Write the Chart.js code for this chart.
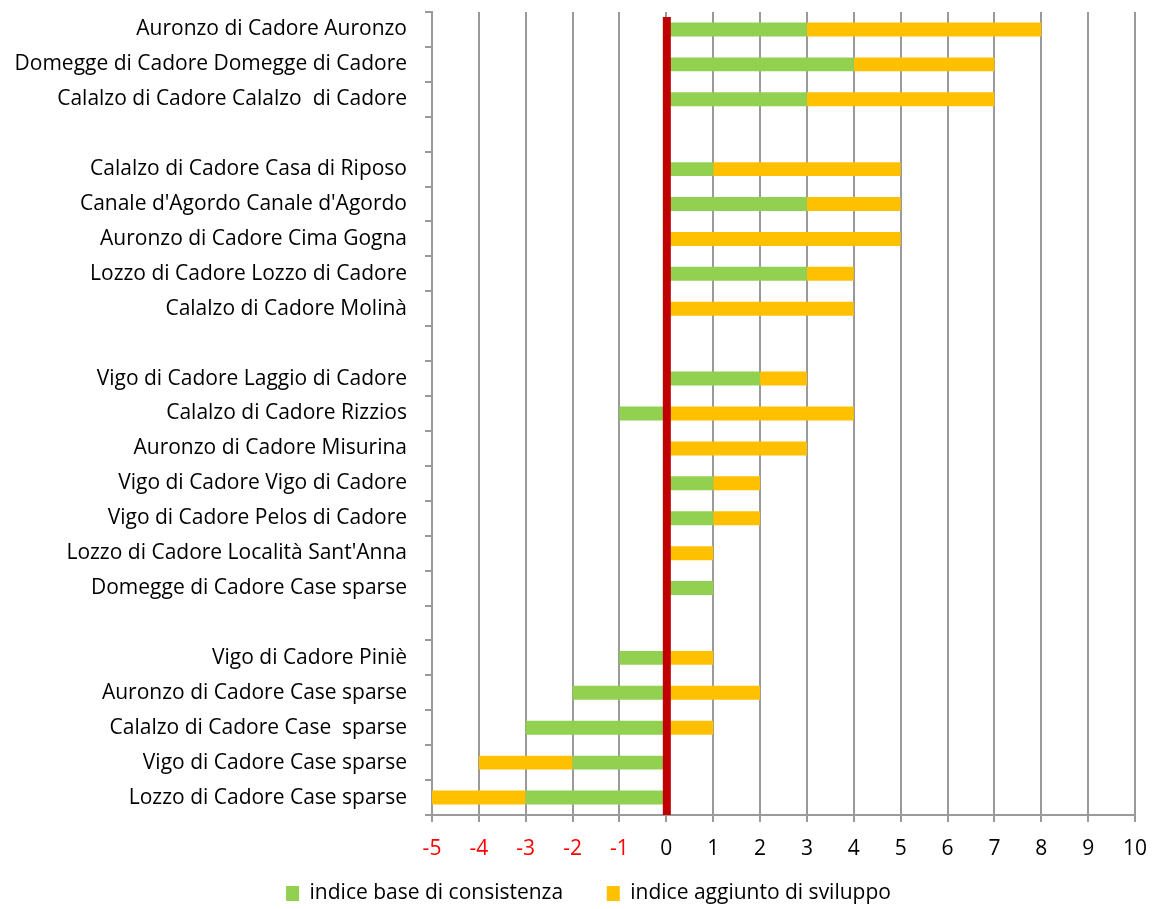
<!DOCTYPE html>
<html>
<head>
<meta charset="utf-8">
<script src="https://cdn.jsdelivr.net/npm/chart.js@4.4.1/dist/chart.umd.min.js"></script>
<style>
  html, body { margin: 0; padding: 0; background: #fff; }
  #wrap { width: 1158px; height: 909px; position: relative; }
</style>
</head>
<body>
<div id="wrap"><canvas id="c" width="1158" height="909"></canvas></div>
<script>
// Località (righe vuote = separatori tra i gruppi)
const categories = [
  "Auronzo di Cadore Auronzo",
  "Domegge di Cadore Domegge di Cadore",
  "Calalzo di Cadore Calalzo  di Cadore",
  "",
  "Calalzo di Cadore Casa di Riposo",
  "Canale d'Agordo Canale d'Agordo",
  "Auronzo di Cadore Cima Gogna",
  "Lozzo di Cadore Lozzo di Cadore",
  "Calalzo di Cadore Molinà",
  "",
  "Vigo di Cadore Laggio di Cadore",
  "Calalzo di Cadore Rizzios",
  "Auronzo di Cadore Misurina",
  "Vigo di Cadore Vigo di Cadore",
  "Vigo di Cadore Pelos di Cadore",
  "Lozzo di Cadore Località Sant'Anna",
  "Domegge di Cadore Case sparse",
  "",
  "Vigo di Cadore Piniè",
  "Auronzo di Cadore Case sparse",
  "Calalzo di Cadore Case  sparse",
  "Vigo di Cadore Case sparse",
  "Lozzo di Cadore Case sparse"
];

const indiceBase = [3, 4, 3, null, 1, 3, 0, 3, 0, null, 2, -1, 0, 1, 1, 0, 1, null, -1, -2, -3, -2, -3];
const indiceSviluppo = [5, 3, 4, null, 4, 2, 5, 1, 4, null, 1, 4, 3, 1, 1, 1, 0, null, 1, 2, 1, -2, -2];

const seriesNames = ["indice base di consistenza", "indice aggiunto di sviluppo"];
const xTicks = [-5, -4, -3, -2, -1, 0, 1, 2, 3, 4, 5, 6, 7, 8, 9, 10];

const FONT = "'Open Sans', Lato, sans-serif";
const FSIZE = 21;
const GRID = '#9a9a9a';

// Linea verticale rossa sullo zero
const zeroLine = {
  id: 'zeroLine',
  afterDatasetsDraw(chart) {
    const { ctx, chartArea, scales } = chart;
    const x = scales.x.getPixelForValue(0);
    ctx.save();
    ctx.fillStyle = '#C00000';
    ctx.fillRect(x - 3.5, chartArea.top + 5, 8, chartArea.bottom - chartArea.top - 5);
    ctx.restore();
  }
};

// Sposta leggermente la legenda verso destra e verso il basso
const legendShift = {
  id: 'legendShift',
  afterLayout(chart) {
    const lg = chart.legend;
    if (lg) { lg.left += 21; lg.right += 21; lg.top += 5; lg.bottom += 5; }
  }
};

new Chart(document.getElementById('c'), {
  type: 'bar',
  data: {
    labels: categories,
    datasets: [
      { label: seriesNames[0], data: indiceBase, backgroundColor: '#92D050', borderWidth: 0 },
      { label: seriesNames[1], data: indiceSviluppo, backgroundColor: '#FFC000', borderWidth: 0 }
    ]
  },
  options: {
    indexAxis: 'y',
    responsive: false,
    animation: false,
    devicePixelRatio: 1,
    layout: { padding: { top: 12, right: 23, left: 0, bottom: 0 } },
    datasets: { bar: { categoryPercentage: 1, barPercentage: 0.4 } },
    scales: {
      x: {
        stacked: true,
        min: -5,
        max: 10,
        afterBuildTicks(axis) { axis.ticks = xTicks.map(v => ({ value: v })); },
        afterFit(axis) { axis.height = 63; axis.paddingLeft = 0; axis.paddingRight = 0; },
        grid: { color: GRID, lineWidth: 2, tickLength: 7, drawOnChartArea: true },
        border: { color: GRID, width: 2 },
        ticks: {
          font: { family: FONT, size: FSIZE },
          color: ctx => (ctx.tick && ctx.tick.value < 0 ? '#FF0000' : '#000000'),
          padding: 14
        }
      },
      y: {
        stacked: true,
        offset: true,
        afterFit(axis) { axis.width = 432; axis.paddingTop = 0; axis.paddingBottom = 0; },
        grid: { offset: true, drawOnChartArea: false, color: GRID, lineWidth: 2, tickLength: 7 },
        border: { color: GRID, width: 2 },
        ticks: { font: { family: FONT, size: FSIZE }, color: '#000', padding: 18, autoSkip: false }
      }
    },
    plugins: {
      legend: {
        position: 'bottom',
        labels: {
          font: { family: FONT, size: FSIZE },
          color: '#000',
          boxWidth: 13,
          boxHeight: 15,
          padding: 0,
          generateLabels(chart) {
            return Chart.defaults.plugins.legend.labels.generateLabels(chart).map((item, i) => {
              item.text = i === 0 ? item.text + '        ' : item.text;
              return item;
            });
          }
        }
      },
      tooltip: { enabled: false }
    }
  },
  plugins: [zeroLine, legendShift]
});
</script>
</body>
</html>
